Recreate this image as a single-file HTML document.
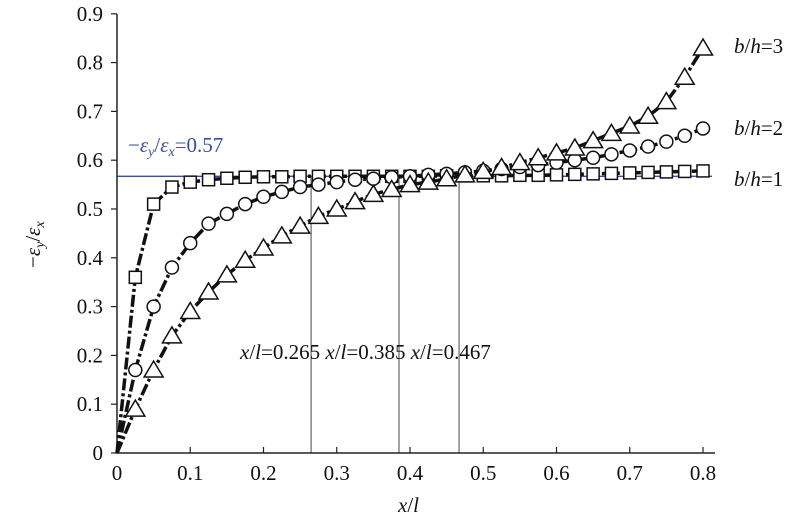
<!DOCTYPE html>
<html><head><meta charset="utf-8"><style>
body{margin:0;background:#fff;width:800px;height:522px;overflow:hidden}
svg text{font-family:"Liberation Serif","Times New Roman",serif;font-size:21px;fill:#111}
</style></head><body>
<svg id="chart" width="800" height="522" xmlns="http://www.w3.org/2000/svg"></svg>
<script>
const xs = [0,0.025,0.05,0.075,0.1,0.125,0.15,0.175,0.2,0.225,0.25,0.275,0.3,0.325,0.35,0.375,0.4,0.425,0.45,0.475,0.5,0.525,0.55,0.575,0.6,0.625,0.65,0.675,0.7,0.725,0.75,0.775,0.8];
const sq = [0,0.36,0.51,0.545,0.555,0.56,0.563,0.565,0.566,0.566,0.567,0.567,0.567,0.567,0.567,0.567,0.567,0.567,0.568,0.568,0.568,0.568,0.569,0.569,0.57,0.571,0.572,0.573,0.574,0.575,0.576,0.577,0.578];
const ci = [0,0.17,0.30,0.38,0.43,0.47,0.49,0.51,0.525,0.535,0.545,0.55,0.555,0.56,0.562,0.565,0.567,0.57,0.572,0.575,0.578,0.582,0.586,0.59,0.595,0.60,0.605,0.612,0.62,0.628,0.638,0.65,0.665];
const tr = [0,0.09,0.17,0.24,0.29,0.33,0.365,0.395,0.42,0.445,0.465,0.485,0.50,0.515,0.53,0.54,0.55,0.555,0.562,0.57,0.577,0.585,0.595,0.605,0.615,0.625,0.64,0.655,0.67,0.69,0.72,0.77,0.83];
const xTicks = [0,0.1,0.2,0.3,0.4,0.5,0.6,0.7,0.8];
const yTicks = [0,0.1,0.2,0.3,0.4,0.5,0.6,0.7,0.8,0.9];
const refLevel = 0.567;
const markLines = [0.265,0.385,0.467];

const NS="http://www.w3.org/2000/svg", svg=document.getElementById('chart');
const X=v=>117+v*732.5, Y=v=>453-v*488;
function el(t,a,txt){const e=document.createElementNS(NS,t);for(const k in a)e.setAttribute(k,a[k]);if(txt!==undefined)e.textContent=txt;svg.appendChild(e);return e;}

markLines.forEach((m,i)=>{const l=el('line',{x1:X(m),x2:X(m),y1:Y(0),y2:Y(0.565),stroke:'#666','stroke-width':1.2});
});
const h=el('line',{x1:X(0),x2:712,y1:Y(refLevel),y2:Y(refLevel),stroke:'#3a4f9a','stroke-width':1.3});


const ax=el('path',{d:`M117 14 V453 H715`,fill:'none',stroke:'#222','stroke-width':1.5});

yTicks.forEach(t=>{el('line',{x1:111,x2:117,y1:Y(t),y2:Y(t),stroke:'#222','stroke-width':1.2});
const tx=el('text',{x:103,y:Y(t)+7,'text-anchor':'end'},t===0?'0':t.toFixed(1));
});
xTicks.forEach(t=>{el('line',{x1:X(t),x2:X(t),y1:453,y2:447,stroke:'#222','stroke-width':1.2});
const tx=el('text',{x:X(t),y:480,'text-anchor':'middle'},t===0?'0':t.toFixed(1));
});

function series(vals,name,marker){
  const p=el('polyline',{points:xs.map((x,i)=>X(x)+','+Y(vals[i])).join(' '),fill:'none',stroke:'#111','stroke-width':3.5,'stroke-dasharray':'12 3 3 3'});
  
  xs.forEach((x,i)=>{if(i===0)return;const cx=X(x),cy=Y(vals[i]);let m;
    if(marker==='sq')m=el('rect',{x:cx-6,y:cy-6,width:12,height:12,fill:'#fff',stroke:'#111','stroke-width':1.5});
    else if(marker==='ci')m=el('circle',{cx:cx,cy:cy,r:6.5,fill:'#fff',stroke:'#111','stroke-width':1.5});
    else m=el('polygon',{points:`${cx},${cy-9} ${cx-9.5},${cy+7} ${cx+9.5},${cy+7}`,fill:'#fff',stroke:'#111','stroke-width':1.5});
    });
}
series(sq,'bh1','sq');series(ci,'bh2','ci');series(tr,'bh3','tr');
</script>
<svg style="position:absolute;left:0;top:0" width="800" height="522" xmlns="http://www.w3.org/2000/svg">
<style>text{font-family:"Liberation Serif","Times New Roman",serif;font-size:21px;fill:#111}</style>
<text x="128" y="152" style="fill:#3a4f9a">−<tspan font-style="italic">ε</tspan><tspan font-style="italic" font-size="14" dy="4">y</tspan><tspan dy="-4">/</tspan><tspan font-style="italic">ε</tspan><tspan font-style="italic" font-size="14" dy="4">x</tspan><tspan dy="-4">=0.57</tspan></text>
<text x="734" y="53"><tspan font-style="italic">b</tspan>/<tspan font-style="italic">h</tspan>=3</text>
<text x="734" y="135"><tspan font-style="italic">b</tspan>/<tspan font-style="italic">h</tspan>=2</text>
<text x="734" y="186"><tspan font-style="italic">b</tspan>/<tspan font-style="italic">h</tspan>=1</text>
<text x="240" y="359"><tspan font-style="italic">x</tspan>/<tspan font-style="italic">l</tspan>=0.265 <tspan font-style="italic">x</tspan>/<tspan font-style="italic">l</tspan>=0.385 <tspan font-style="italic">x</tspan>/<tspan font-style="italic">l</tspan>=0.467</text>
<text x="398" y="512"><tspan font-style="italic">x</tspan>/<tspan font-style="italic">l</tspan></text>
<text transform="translate(40,268) rotate(-90)">−<tspan font-style="italic">ε</tspan><tspan font-style="italic" font-size="14" dy="4">y</tspan><tspan dy="-4">/</tspan><tspan font-style="italic">ε</tspan><tspan font-style="italic" font-size="14" dy="4">x</tspan></text>
</svg>
</body></html>
